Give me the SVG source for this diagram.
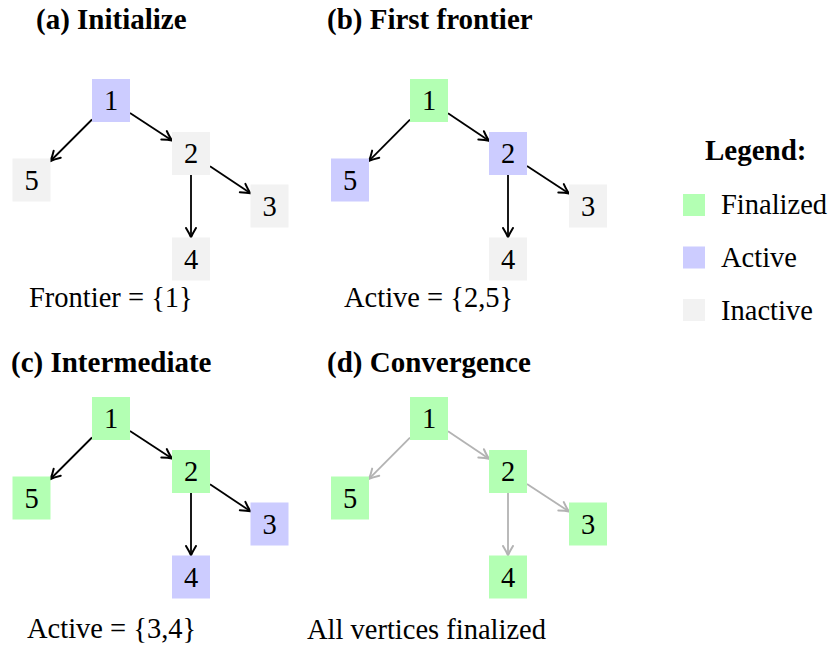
<svg xmlns="http://www.w3.org/2000/svg" width="830" height="646" viewBox="0 0 830 646">
  <defs>
    <style>
      text { font-family: "Liberation Serif", "Times New Roman", serif; fill: #000; }
      .title { font-size: 29px; font-weight: bold; }
      .label { font-size: 28.5px; }
      .num { font-size: 28.5px; text-anchor: middle; }
      .fin { fill: #b3ffb3; }
      .act { fill: #ccccff; }
      .ina { fill: #f2f2f2; }
      .edge { stroke: #000; stroke-width: 1.8; fill: none; marker-end: url(#tip); }
      .edge-done { stroke: #b3b3b3; stroke-width: 1.8; fill: none; marker-end: url(#tip-gray); }
    </style>
    <marker id="tip" viewBox="-11 -7 13 14" refX="0" refY="0" markerWidth="13" markerHeight="14" markerUnits="userSpaceOnUse" orient="auto">
      <path d="M -9.5 -5 Q -3.5 -1.3 0 0 Q -3.5 1.3 -9.5 5" fill="none" stroke="#000" stroke-width="2" stroke-linecap="round"/>
    </marker>
    <marker id="tip-gray" viewBox="-11 -7 13 14" refX="0" refY="0" markerWidth="13" markerHeight="14" markerUnits="userSpaceOnUse" orient="auto">
      <path d="M -9.5 -5 Q -3.5 -1.3 0 0 Q -3.5 1.3 -9.5 5" fill="none" stroke="#b3b3b3" stroke-width="2" stroke-linecap="round"/>
    </marker>
  </defs>

  <!-- panel titles -->
  <text class="title" x="36" y="29">(a) Initialize</text>
  <text class="title" x="327" y="29">(b) First frontier</text>
  <text class="title" x="11" y="372">(c) Intermediate</text>
  <text class="title" x="327" y="372">(d) Convergence</text>

  <!-- (a) Initialize -->
  <g id="panel-a">
    <g id="edges-a">
      <line class="edge" x1="92" y1="119.5" x2="50.5" y2="161"/>
      <line class="edge" x1="130" y1="113.1" x2="172" y2="140.4"/>
      <line class="edge" x1="191" y1="175" x2="191" y2="237.5"/>
      <line class="edge" x1="210" y1="166.2" x2="250.5" y2="193.3"/>
    </g>
    <g id="a-v1"><rect class="act" x="92" y="79" width="38" height="43"/><text class="num" x="111" y="110">1</text></g>
    <g id="a-v2"><rect class="ina" x="172" y="132" width="38" height="43"/><text class="num" x="191" y="163">2</text></g>
    <g id="a-v5"><rect class="ina" x="12.5" y="158.5" width="38" height="43"/><text class="num" x="31.5" y="189.5">5</text></g>
    <g id="a-v3"><rect class="ina" x="250.5" y="184.5" width="38" height="43"/><text class="num" x="269.5" y="215.5">3</text></g>
    <g id="a-v4"><rect class="ina" x="172" y="237.5" width="38" height="43"/><text class="num" x="191" y="268.5">4</text></g>
    <text class="label" x="29" y="307">Frontier = {1}</text>
  </g>

  <!-- (b) First frontier -->
  <g id="panel-b">
    <g id="edges-b">
      <line class="edge" x1="410" y1="119.6" x2="369" y2="160.9"/>
      <line class="edge" x1="448" y1="113.2" x2="489" y2="140.7"/>
      <line class="edge" x1="508" y1="175" x2="508" y2="237.5"/>
      <line class="edge" x1="527" y1="166" x2="569" y2="193.5"/>
    </g>
    <g id="b-v1"><rect class="fin" x="410" y="79" width="38" height="43"/><text class="num" x="429" y="110">1</text></g>
    <g id="b-v2"><rect class="act" x="489" y="132" width="38" height="43"/><text class="num" x="508" y="163">2</text></g>
    <g id="b-v5"><rect class="act" x="331" y="158.5" width="38" height="43"/><text class="num" x="350" y="189.5">5</text></g>
    <g id="b-v3"><rect class="ina" x="569" y="184.5" width="38" height="43"/><text class="num" x="588" y="215.5">3</text></g>
    <g id="b-v4"><rect class="ina" x="489" y="237.5" width="38" height="43"/><text class="num" x="508" y="268.5">4</text></g>
    <text class="label" x="344" y="307">Active = {2,5}</text>
  </g>

  <!-- (c) Intermediate -->
  <g id="panel-c" transform="translate(0,318)">
    <g id="edges-c">
      <line class="edge" x1="92" y1="119.5" x2="50.5" y2="161"/>
      <line class="edge" x1="130" y1="113.1" x2="172" y2="140.4"/>
      <line class="edge" x1="191" y1="175" x2="191" y2="237.5"/>
      <line class="edge" x1="210" y1="166.2" x2="250.5" y2="193.3"/>
    </g>
    <g id="c-v1"><rect class="fin" x="92" y="79" width="38" height="43"/><text class="num" x="111" y="110">1</text></g>
    <g id="c-v2"><rect class="fin" x="172" y="132" width="38" height="43"/><text class="num" x="191" y="163">2</text></g>
    <g id="c-v5"><rect class="fin" x="12.5" y="158.5" width="38" height="43"/><text class="num" x="31.5" y="189.5">5</text></g>
    <g id="c-v3"><rect class="act" x="250.5" y="184.5" width="38" height="43"/><text class="num" x="269.5" y="215.5">3</text></g>
    <g id="c-v4"><rect class="act" x="172" y="237.5" width="38" height="43"/><text class="num" x="191" y="268.5">4</text></g>
  </g>
  <text class="label" x="27" y="638">Active = {3,4}</text>

  <!-- (d) Convergence -->
  <g id="panel-d" transform="translate(0,318)">
    <g id="edges-d">
      <line class="edge-done" x1="410" y1="119.6" x2="369" y2="160.9"/>
      <line class="edge-done" x1="448" y1="113.2" x2="489" y2="140.7"/>
      <line class="edge-done" x1="508" y1="175" x2="508" y2="237.5"/>
      <line class="edge-done" x1="527" y1="166" x2="569" y2="193.5"/>
    </g>
    <g id="d-v1"><rect class="fin" x="410" y="79" width="38" height="43"/><text class="num" x="429" y="110">1</text></g>
    <g id="d-v2"><rect class="fin" x="489" y="132" width="38" height="43"/><text class="num" x="508" y="163">2</text></g>
    <g id="d-v5"><rect class="fin" x="331" y="158.5" width="38" height="43"/><text class="num" x="350" y="189.5">5</text></g>
    <g id="d-v3"><rect class="fin" x="569" y="184.5" width="38" height="43"/><text class="num" x="588" y="215.5">3</text></g>
    <g id="d-v4"><rect class="fin" x="489" y="237.5" width="38" height="43"/><text class="num" x="508" y="268.5">4</text></g>
  </g>
  <text class="label" x="307" y="639">All vertices finalized</text>

  <!-- legend -->
  <g id="legend">
    <text class="title" x="705" y="160">Legend:</text>
    <rect class="fin" x="683" y="194" width="22" height="22"/>
    <text class="label" x="721" y="214">Finalized</text>
    <rect class="act" x="683" y="246.5" width="22" height="22"/>
    <text class="label" x="721" y="267">Active</text>
    <rect class="ina" x="683" y="299" width="22" height="22"/>
    <text class="label" x="721" y="320">Inactive</text>
  </g>
</svg>
